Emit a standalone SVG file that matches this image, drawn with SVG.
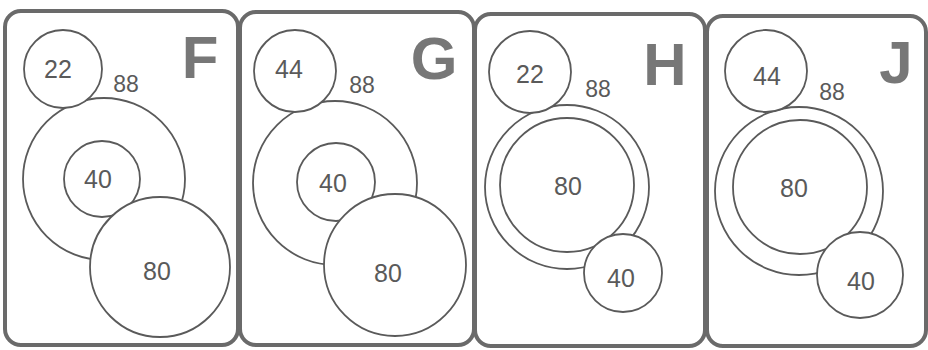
<svg xmlns="http://www.w3.org/2000/svg" width="928" height="350" viewBox="0 0 928 350">
<style>
.frame{fill:#fff;stroke:#6a6a6a;stroke-width:4}
.c{fill:#fff;stroke:#5a5a5a;stroke-width:1.8}
.n{font-family:"Liberation Sans",Arial,sans-serif;font-size:25px;fill:#5a5a5a;text-anchor:middle}
.s{font-size:23px}
.L{font-family:"Liberation Sans",Arial,sans-serif;font-weight:bold;font-size:60px;fill:#777;text-anchor:middle}
</style>
<rect width="928" height="350" fill="#fff"/>
<g id="panel-F">
<rect class="frame" x="5" y="11" width="233" height="334" rx="16"/>
<text class="L" x="200" y="78">F</text>
<g id="F-88"><circle class="c" cx="104" cy="179" r="81"/><text class="n s" x="126" y="92">88</text></g>
<g id="F-40"><circle class="c" cx="102" cy="179" r="38"/><text class="n" x="98" y="188">40</text></g>
<g id="F-22"><circle class="c" cx="63" cy="69" r="39"/><text class="n" x="58" y="78">22</text></g>
<g id="F-80"><circle class="c" cx="160" cy="267" r="70"/><text class="n" x="157" y="280">80</text></g>
</g>
<g id="panel-G">
<rect class="frame" x="240" y="12" width="234" height="333" rx="16"/>
<text class="L" x="434" y="79">G</text>
<g id="G-88"><circle class="c" cx="335" cy="183" r="82"/><text class="n s" x="362" y="93">88</text></g>
<g id="G-40"><circle class="c" cx="336" cy="182" r="39"/><text class="n" x="333" y="192">40</text></g>
<g id="G-44"><circle class="c" cx="295" cy="71" r="41"/><text class="n" x="289" y="78">44</text></g>
<g id="G-80"><circle class="c" cx="395" cy="265" r="71"/><text class="n" x="388" y="282">80</text></g>
</g>
<g id="panel-H">
<rect class="frame" x="475" y="14" width="230" height="332" rx="16"/>
<text class="L" x="665" y="85">H</text>
<g id="H-88"><circle class="c" cx="567" cy="187" r="82"/><text class="n s" x="598" y="97">88</text></g>
<g id="H-80"><circle class="c" cx="567" cy="185" r="67"/><text class="n" x="568" y="195">80</text></g>
<g id="H-22"><circle class="c" cx="530" cy="72" r="41"/><text class="n" x="530" y="83">22</text></g>
<g id="H-40"><circle class="c" cx="623" cy="273" r="39"/><text class="n" x="621" y="287">40</text></g>
</g>
<g id="panel-J">
<rect class="frame" x="707" y="16" width="219" height="330" rx="16"/>
<text class="L" x="896" y="83">J</text>
<g id="J-88"><circle class="c" cx="799" cy="191" r="84"/><text class="n s" x="832" y="100">88</text></g>
<g id="J-80"><circle class="c" cx="800" cy="187" r="67"/><text class="n" x="794" y="197">80</text></g>
<g id="J-44"><circle class="c" cx="766" cy="71" r="41"/><text class="n" x="767" y="85">44</text></g>
<g id="J-40"><circle class="c" cx="860" cy="275" r="43"/><text class="n" x="861" y="290">40</text></g>
</g>
</svg>
